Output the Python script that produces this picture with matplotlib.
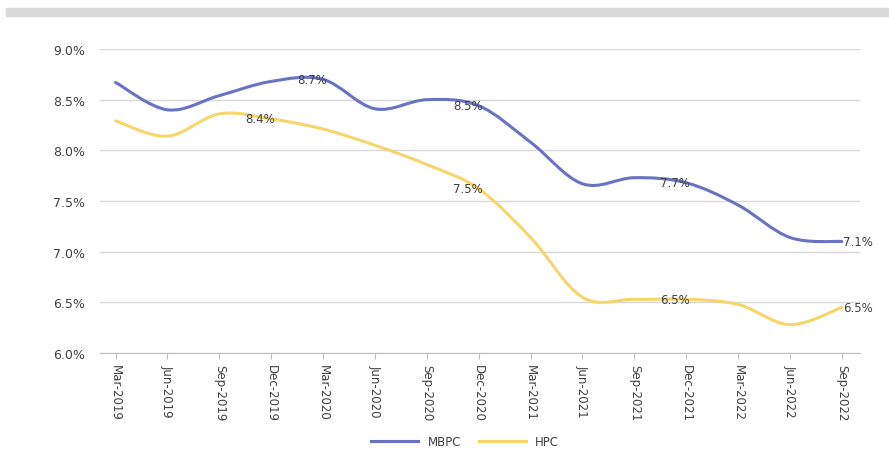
import numpy as np
import matplotlib.pyplot as plt
from matplotlib.path import Path
from matplotlib.patches import PathPatch, Rectangle
from matplotlib.lines import Line2D

# Data (percent)
periods = ["Mar-2019", "Jun-2019", "Sep-2019", "Dec-2019", "Mar-2020",
           "Jun-2020", "Sep-2020", "Dec-2020", "Mar-2021", "Jun-2021",
           "Sep-2021", "Dec-2021", "Mar-2022", "Jun-2022", "Sep-2022"]
mbpc = [8.67, 8.40, 8.54, 8.68, 8.70, 8.41, 8.50, 8.44, 8.08, 7.67,
        7.73, 7.68, 7.46, 7.14, 7.10]
hpc = [8.29, 8.14, 8.36, 8.31, 8.21, 8.05, 7.86, 7.62, 7.14, 6.55,
       6.53, 6.53, 6.48, 6.28, 6.45]

mbpc_labels = {4: "8.7%", 7: "8.5%", 11: "7.7%", 14: "7.1%"}
hpc_labels = {3: "8.4%", 7: "7.5%", 11: "6.5%", 14: "6.5%"}

BLUE = "#6a72c4"
YELLOW = "#f6d66a"
TEXT = "#404040"


def smooth_path(xs, ys, k=0.17):
  # Excel-like smoothed line: cubic bezier through every data point
  verts = [(xs[0], ys[0])]
  codes = [Path.MOVETO]
  n = len(xs)
  for i in range(n - 1):
    x0, y0 = xs[max(i - 1, 0)], ys[max(i - 1, 0)]
    x1, y1 = xs[i], ys[i]
    x2, y2 = xs[i + 1], ys[i + 1]
    x3, y3 = xs[min(i + 2, n - 1)], ys[min(i + 2, n - 1)]
    c1 = (x1 + (x2 - x0) * k, y1 + (y2 - y0) * k)
    c2 = (x2 - (x3 - x1) * k, y2 - (y3 - y1) * k)
    verts += [c1, c2, (x2, y2)]
    codes += [Path.CURVE4] * 3
  return Path(verts, codes)


fig = plt.figure(figsize=(8.89, 4.52), dpi=100)
fig.patches.append(Rectangle((6 / 889, 1 - 17 / 452), 883 / 889, 8 / 452,
                             transform=fig.transFigure, color="#d9d9d9", zorder=0))

ax = fig.add_axes([100 / 889, 1 - 354 / 452, 760 / 889, 304 / 452])
x = np.arange(len(periods))

for vals, col in [(mbpc, BLUE), (hpc, YELLOW)]:
  ax.add_patch(PathPatch(smooth_path(x, vals), fill=False, edgecolor=col,
                         lw=2.2, capstyle="round", zorder=3))

for labels, vals in [(mbpc_labels, mbpc), (hpc_labels, hpc)]:
  for i, txt in labels.items():
    if i == len(periods) - 1:
      ax.annotate(txt, (x[i], vals[i]), xytext=(1, 0), textcoords="offset points",
                  ha="left", va="center", fontsize=8.5, color=TEXT, zorder=4)
    else:
      ax.annotate(txt, (x[i], vals[i]), xytext=(-8, 0), textcoords="offset points",
                  ha="center", va="center", fontsize=8.5, color=TEXT, zorder=4)

ax.set_xlim(-0.3, len(periods) - 1 + 0.35)
ax.set_ylim(6.0, 9.0)
ax.set_yticks(np.arange(6.0, 9.01, 0.5))
ax.set_yticklabels(["{:.1f}%".format(v) for v in np.arange(6.0, 9.01, 0.5)])
ax.set_xticks(x)
ax.set_xticklabels(periods, rotation=270, fontsize=8.5, color=TEXT)
ax.tick_params(axis="y", length=0, labelsize=9, labelcolor=TEXT, pad=11)
ax.tick_params(axis="x", length=4, color="#bfbfbf", pad=4)
ax.grid(axis="y", color="#d9d9d9", lw=1)
ax.set_axisbelow(True)
for s in ["top", "right", "left"]:
  ax.spines[s].set_visible(False)
ax.spines["bottom"].set_color("#bfbfbf")

handles = [Line2D([], [], color=BLUE, lw=2.2), Line2D([], [], color=YELLOW, lw=2.2)]
fig.legend(handles, ["MBPC", "HPC"], loc="center", bbox_to_anchor=(465 / 889, 1 - 443 / 452),
           ncol=2, frameon=False, fontsize=8.5, handlelength=4, columnspacing=1.5,
           labelcolor=TEXT)

fig.savefig("out.png", dpi=100)
